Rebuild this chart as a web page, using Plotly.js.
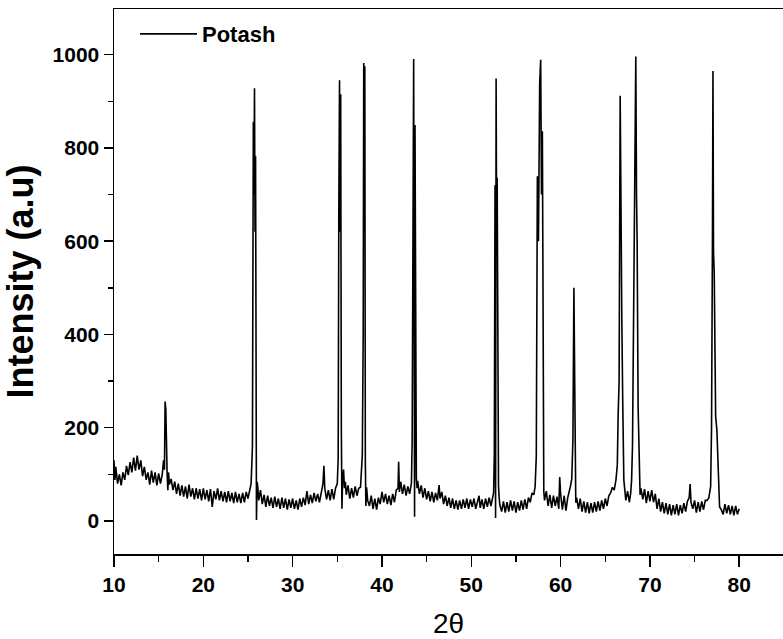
<!DOCTYPE html>
<html><head><meta charset="utf-8">
<script src="https://cdn.plot.ly/plotly-3.0.1.min.js"></script>
<style>html,body{margin:0;padding:0;background:#fff}#chart{width:783px;height:639px}</style>
</head><body><div id="chart"></div>
<script>
const seriesName = 'Potash';
const twoTheta = [
10.0,10.1,10.2,10.4,10.6,10.8,11.0,11.2,11.4,11.6,
11.8,12.0,12.2,12.4,12.6,12.8,13.0,13.2,13.4,13.6,
13.8,14.0,14.2,14.4,14.6,14.8,15.0,15.2,15.4,15.55,
15.65,15.72,15.8,15.88,15.95,16.03,16.1,16.2,16.4,16.6,
16.8,17.0,17.2,17.4,17.6,17.8,18.0,18.2,18.4,18.6,
18.8,19.0,19.2,19.4,19.6,19.8,20.0,20.2,20.4,20.6,
20.8,21.0,21.2,21.4,21.6,21.8,22.0,22.2,22.4,22.6,
22.8,23.0,23.2,23.4,23.6,23.8,24.0,24.2,24.4,24.6,
24.8,25.0,25.2,25.35,25.5,25.6,25.66,25.73,25.79,25.85,
25.9,25.95,26.02,26.1,26.2,26.4,26.6,26.8,27.0,27.2,
27.4,27.6,27.8,28.0,28.2,28.4,28.6,28.8,29.0,29.2,
29.4,29.6,29.8,30.0,30.2,30.4,30.6,30.8,31.0,31.2,
31.4,31.6,31.8,32.0,32.2,32.4,32.6,32.8,33.0,33.2,
33.4,33.5,33.6,33.8,34.0,34.2,34.4,34.6,34.8,35.0,
35.1,35.17,35.25,35.31,35.38,35.45,35.52,35.6,35.7,35.8,
35.9,36.0,36.2,36.4,36.6,36.8,37.0,37.2,37.4,37.6,
37.8,37.9,37.96,38.02,38.08,38.14,38.2,38.28,38.4,38.6,
38.8,39.0,39.2,39.4,39.6,39.8,40.0,40.2,40.4,40.6,
40.8,41.0,41.2,41.4,41.6,41.8,41.87,41.95,42.1,42.3,
42.5,42.7,42.9,43.1,43.3,43.38,43.47,43.55,43.6,43.65,
43.7,43.77,43.85,43.93,44.0,44.2,44.4,44.6,44.8,45.0,
45.2,45.4,45.6,45.8,46.0,46.2,46.4,46.5,46.7,46.9,
47.1,47.3,47.5,47.7,47.9,48.1,48.3,48.5,48.7,48.9,
49.1,49.3,49.5,49.7,49.9,50.1,50.3,50.5,50.7,50.87,
51.0,51.2,51.4,51.6,51.8,52.0,52.2,52.35,52.5,52.58,
52.66,52.72,52.78,52.84,52.9,52.97,53.05,53.12,53.2,53.4,
53.6,53.8,54.0,54.2,54.4,54.6,54.8,55.0,55.2,55.4,
55.6,55.8,56.0,56.2,56.4,56.6,56.8,57.0,
57.15,57.28,57.4,57.52,57.66,57.77,57.86,57.96,58.04,58.12,
58.2,58.4,58.6,58.8,59.0,59.2,59.4,59.6,59.8,59.9,
60.0,60.2,60.4,60.6,60.8,60.95,61.1,61.25,61.38,61.49,
61.55,61.62,61.7,61.8,62.0,62.2,62.4,62.6,62.8,63.0,
63.2,63.4,63.6,63.8,64.0,64.2,64.4,64.6,64.8,65.0,
65.2,65.4,65.6,65.8,66.0,66.2,66.35,66.44,66.55,66.67,
66.76,66.86,66.96,67.08,67.19,67.3,67.5,67.7,67.85,67.95,
68.05,68.2,68.32,68.42,68.5,68.57,68.68,68.8,68.9,69.0,
69.2,69.4,69.6,69.8,70.0,70.2,70.4,70.6,70.8,71.0,
71.2,71.4,71.6,71.8,72.0,72.2,72.4,72.6,72.8,73.0,
73.2,73.4,73.6,73.8,74.0,74.2,74.4,74.5,74.6,74.8,
75.0,75.2,75.4,75.6,75.8,76.0,76.2,76.4,76.6,76.8,
76.9,77.0,77.06,77.12,77.2,77.36,77.5,77.58,77.7,77.8,
78.0,78.2,78.4,78.6,78.8,79.0,79.2,79.4,79.6,79.8,80.0
];
const intensity = [
130,88,116,80,100,76,104,88,118,98,
126,104,136,108,140,110,130,96,116,88,
104,78,108,82,104,76,102,80,100,130,
110,256,240,120,100,66,104,78,90,66,
84,58,80,54,76,52,74,48,78,52,
70,46,70,48,68,44,70,46,66,42,
68,30,64,46,70,44,64,42,62,40,
64,42,60,38,62,40,58,38,60,40,
62,48,66,80,160,856,700,928,620,782,
250,2,84,72,44,66,36,56,30,54,
32,50,28,52,30,48,26,50,28,48,
24,46,28,48,26,44,24,48,30,50,
34,64,36,56,38,60,42,58,40,64,
80,118,70,46,66,44,68,46,70,80,
135,667,945,620,915,202,26,93,110,70,
84,56,76,48,70,50,74,54,70,72,
141,400,982,700,975,127,32,72,44,32,
54,26,48,24,50,36,62,40,58,36,
54,34,58,40,66,70,127,62,84,58,
78,54,74,58,81,170,939,991,500,9,
849,181,92,70,86,58,76,50,70,46,
64,42,62,40,60,44,77,48,62,36,
54,32,50,28,48,26,44,24,44,26,
46,28,48,26,46,30,48,26,44,54,
28,46,26,48,30,50,32,48,60,143,
720,6,949,600,736,200,75,50,34,20,
42,18,40,20,44,22,42,18,40,22,
44,24,46,26,50,40,60,56,
74,139,739,600,939,989,700,836,127,63,
44,64,32,56,28,54,32,52,26,94,
58,24,54,22,50,60,74,90,174,500,
390,111,39,50,26,48,20,42,18,40,
16,38,18,40,20,42,22,44,26,48,
32,54,60,72,66,88,120,224,300,912,
574,420,250,88,66,44,64,40,60,88,
160,579,900,996,700,599,243,120,56,70,
46,68,38,64,42,66,40,58,26,48,
20,40,16,38,14,36,12,34,14,36,
12,34,16,38,20,42,50,79,40,26,
44,18,40,20,42,24,44,44,50,74,
200,600,965,577,531,224,195,150,49,30,
24,14,36,16,34,14,32,12,32,14,26
];
const xTickVals = [10,20,30,40,50,60,70,80];
const xTickText = ['10','20','30','40','50','60','70','80'];
const yTickVals = [0,200,400,600,800,1000];
const yTickText = ['0','200','400','600','800','1000'];
const xTitle = '2θ';
const yTitle = 'Intensity (a.u)';

const FONT = 'Arial, "Liberation Sans", sans-serif';
const layout = {
  width: 783, height: 639,
  margin: {l: 114, r: 0, t: 9, b: 85},
  paper_bgcolor: '#fff', plot_bgcolor: '#fff',
  font: {family: FONT, color: '#000'},
  showlegend: true,
  legend: {x: 0.0314, y: 0.954, xanchor: 'left', yanchor: 'middle', bgcolor: 'rgba(0,0,0,0)', borderwidth: 0,
           itemwidth: 57,
           font: {family: FONT, size: 22, color: '#000', weight: 'bold'}},
  xaxis: {
    range: [10, 84.9], tickmode: 'array', tickvals: xTickVals, ticktext: xTickText,
    showline: true, linecolor: '#000', linewidth: 1.5, mirror: true,
    ticks: 'outside', ticklen: 11, tickwidth: 1.5, tickcolor: '#000',
    showgrid: false, zeroline: false,
    tickfont: {family: FONT, size: 21, color: '#000', weight: 'bold'},
    minor: {ticks: 'outside', dtick: 5, ticklen: 6, tickwidth: 1.5, tickcolor: '#000'},
    title: {text: xTitle, font: {family: FONT, size: 28, color: '#000'}, standoff: 18}
  },
  yaxis: {
    range: [-71, 1098], tickmode: 'array', tickvals: yTickVals, ticktext: yTickText,
    showline: true, linecolor: '#000', linewidth: 1.5,
    ticks: 'outside', ticklen: 9, tickwidth: 1.5, tickcolor: '#000',
    showgrid: false, zeroline: false,
    tickfont: {family: FONT, size: 21, color: '#000', weight: 'bold'},
    minor: {ticks: 'outside', dtick: 100, ticklen: 5, tickwidth: 1.5, tickcolor: '#000'},
    title: {text: yTitle, font: {family: FONT, size: 36, color: '#000', weight: 'bold'}, standoff: 8}
  }
};
const data = [{
  x: twoTheta, y: intensity, type: 'scatter', mode: 'lines', name: seriesName,
  line: {color: '#000', width: 1.6}
}];
Plotly.newPlot('chart', data, layout, {staticPlot: true, displayModeBar: false});
</script>
</body></html>
